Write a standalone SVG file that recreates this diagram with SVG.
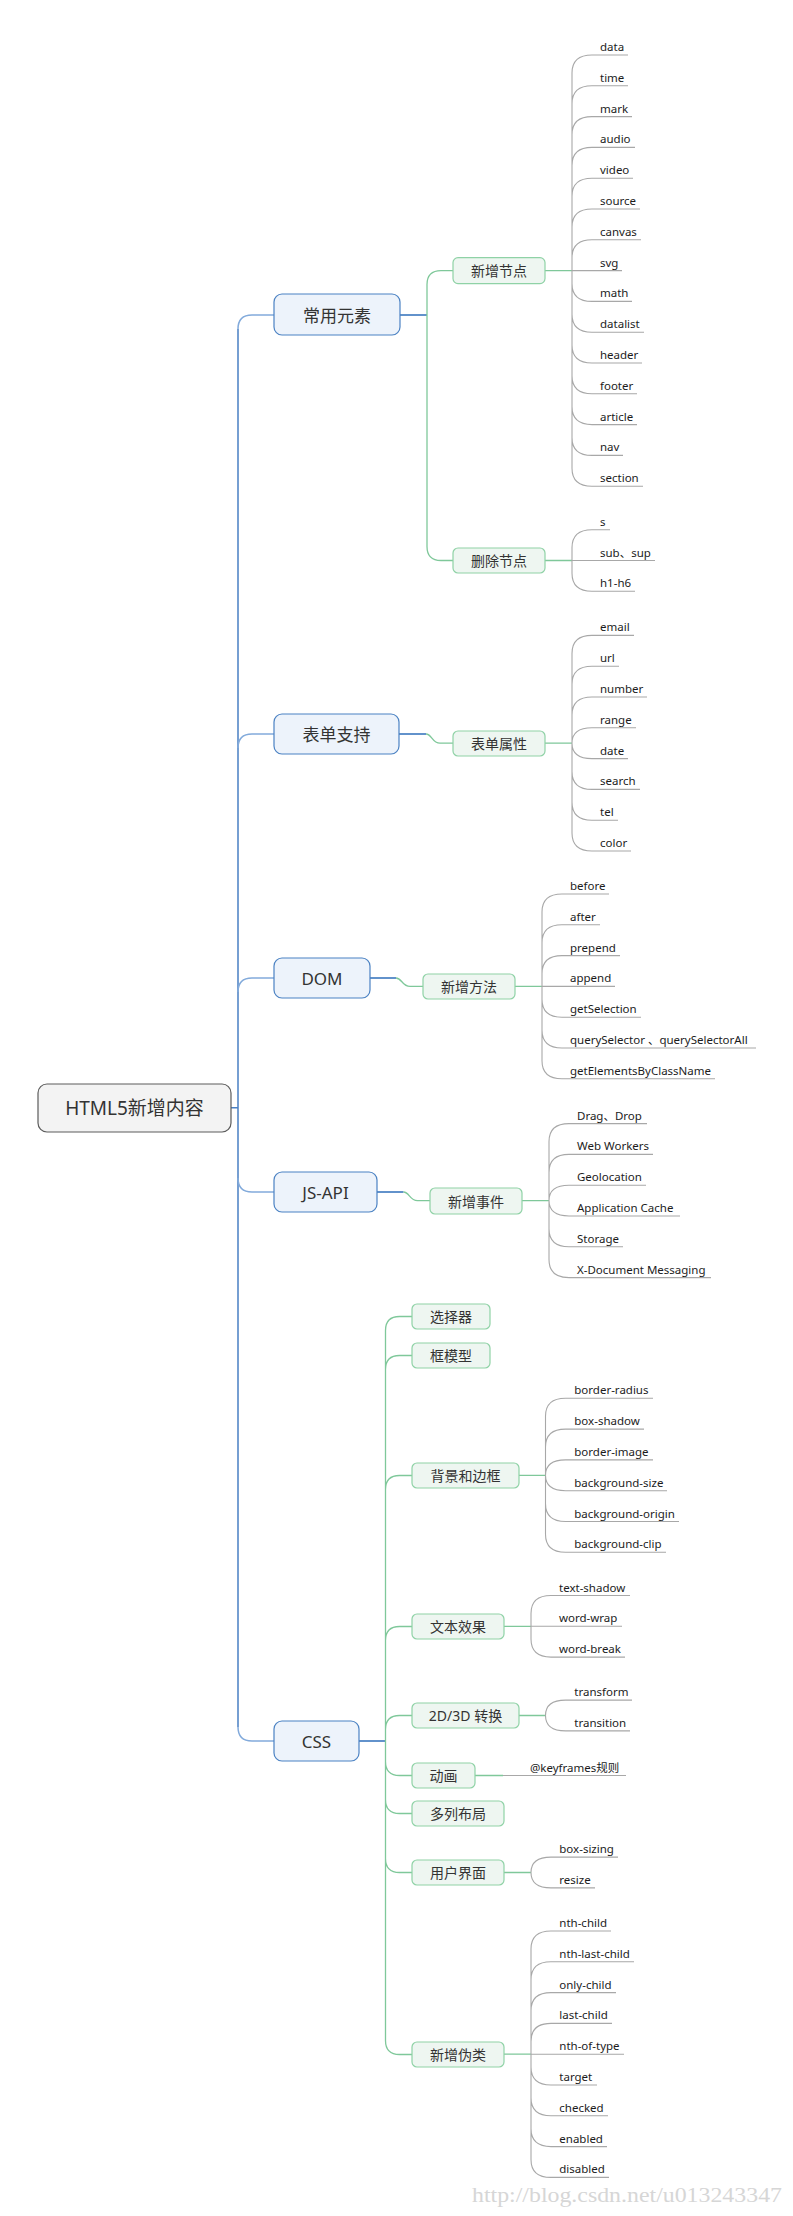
<svg xmlns="http://www.w3.org/2000/svg" width="793" height="2216" viewBox="0 0 793 2216">
<style>
text{font-family:"Noto Sans","Noto Sans CJK SC",sans-serif}
.lf{font-size:11.5px;fill:#1c1c1c}
.t2{font-size:14px;fill:#333;text-anchor:middle;dominant-baseline:central}
.t1{font-size:17px;fill:#333;text-anchor:middle;dominant-baseline:central}
.t0{font-size:19px;fill:#333;text-anchor:middle;dominant-baseline:central}
.gl{fill:none;stroke:#a8a8a8;stroke-width:1.1}
.gr{fill:none;stroke:#7fc89a;stroke-width:1.3}
.bl{fill:none;stroke:#4a80c4;stroke-width:1.5}
.blc{fill:none;stroke:#82aadb;stroke-width:1.5}
.bd{fill:none;stroke:#2f6fba;stroke-width:1.3}
.b0{fill:#f3f3f3;stroke:#5c5c5c;stroke-width:1.2}
.b1{fill:#edf3fb;stroke:#4b82c3;stroke-width:1.2}
.b2{fill:#eef6f1;stroke:#8fd2a6;stroke-width:1.2}
.wm{font-family:"Liberation Serif",serif;font-size:20px;fill:#d6d6d6}
</style>
<g id="connectors">
<!-- trunk -->
<path class="bl" d="M231,1107.7 H238 M238,329 V1727"/>
<path class="blc" d="M238,329 Q238,315 252,315 H274 M238,748 Q238,734 252,734 H274 M238,992 Q238,978 252,978 H274 M238,1178 Q238,1192 252,1192 H274 M238,1727 Q238,1741 252,1741 H274"/>
<!-- level1 to level2 -->
<path class="bd" d="M400,315 H427 M399,734 H426 M370,978 H396 M377,1192 H403.5 M359,1741 H385.5"/>
<path class="gr" d="M427,284.6 V546.5 M427,284.6 Q427,270.6 441,270.6 H453 M427,546.5 Q427,560.5 441,560.5 H453"/>
<path class="gr" d="M426,734 C432,734 432,743.2 440,743.2 H453"/>
<path class="gr" d="M396,978 C402,978 402,986.4 410,986.4 H423"/>
<path class="gr" d="M403.5,1192 C409.5,1192 409.5,1200.6 417.5,1200.6 H430"/>
<path class="gr" d="M385.5,1330.5 V2040.5 M385.5,1330.5 Q385.5,1316.5 399.5,1316.5 H412 M385.5,1369.5 Q385.5,1355.5 399.5,1355.5 H412 M385.5,1489.5 Q385.5,1475.5 399.5,1475.5 H412 M385.5,1640.5 Q385.5,1626.5 399.5,1626.5 H412 M385.5,1729.5 Q385.5,1715.5 399.5,1715.5 H412 M385.5,1761.5 Q385.5,1775.5 399.5,1775.5 H412 M385.5,1799.5 Q385.5,1813.5 399.5,1813.5 H412 M385.5,1858.5 Q385.5,1872.5 399.5,1872.5 H412 M385.5,2040.5 Q385.5,2054.5 399.5,2054.5 H412"/>
<!-- level2 to leaves (green stubs) -->
<path class="gr" d="M545,270.6 H572 M545,560.5 H572 M545,743.2 H572 M515,986.4 H542 M522,1200.6 H549 M519,1475.3 H545.5 M504,1626.3 H531 M519,1715.5 H545.5 M475,1775.5 H503 M504,1872.5 H531 M504,2054.2 H531"/>
<!-- leaves: 新增节点 -->
<path class="gl" d="M572,73 V468.2
M572,73 Q572,55 592,55 H628
M572,103.8 Q572,85.8 592,85.8 H628
M572,134.6 Q572,116.6 592,116.6 H632
M572,165.4 Q572,147.4 592,147.4 H635
M572,196.2 Q572,178.2 592,178.2 H633
M572,227 Q572,209 592,209 H640
M572,257.8 Q572,239.8 592,239.8 H641
M572,270.6 H622
M572,283.4 Q572,301.4 592,301.4 H632
M572,314.2 Q572,332.2 592,332.2 H644
M572,345 Q572,363 592,363 H642
M572,375.8 Q572,393.8 592,393.8 H637
M572,406.6 Q572,424.6 592,424.6 H637
M572,437.4 Q572,455.4 592,455.4 H623
M572,468.2 Q572,486.2 592,486.2 H643"/>
<!-- 删除节点 -->
<path class="gl" d="M572,547.7 V573.3
M572,547.7 Q572,529.7 592,529.7 H610
M572,560.5 H655
M572,573.3 Q572,591.3 592,591.3 H635"/>
<!-- 表单属性 -->
<path class="gl" d="M572,653.4 V833
M572,653.4 Q572,635.4 592,635.4 H634
M572,684.2 Q572,666.2 592,666.2 H619
M572,715 Q572,697 592,697 H647
M572,743.2 Q572,727.8 592,727.8 H636
M572,743.2 Q572,758.6 592,758.6 H628
M572,771.4 Q572,789.4 592,789.4 H640
M572,802.2 Q572,820.2 592,820.2 H618
M572,833 Q572,851 592,851 H631"/>
<!-- 新增方法 -->
<path class="gl" d="M542,912 V1060.8
M542,912 Q542,894 562,894 H609
M542,942.8 Q542,924.8 562,924.8 H600
M542,973.6 Q542,955.6 562,955.6 H620
M542,986.4 H615
M542,999.2 Q542,1017.2 562,1017.2 H641
M542,1030 Q542,1048 562,1048 H756
M542,1060.8 Q542,1078.8 562,1078.8 H715"/>
<!-- 新增事件 -->
<path class="gl" d="M549,1141.6 V1259.6
M549,1141.6 Q549,1123.6 569,1123.6 H647
M549,1172.4 Q549,1154.4 569,1154.4 H653
M549,1200.6 Q549,1185.2 569,1185.2 H646
M549,1200.6 Q549,1216 569,1216 H680
M549,1228.8 Q549,1246.8 569,1246.8 H623
M549,1259.6 Q549,1277.6 569,1277.6 H711"/>
<!-- 背景和边框 -->
<path class="gl" d="M545.5,1416.3 V1534.3
M545.5,1416.3 Q545.5,1398.3 565.5,1398.3 H653
M545.5,1447.1 Q545.5,1429.1 565.5,1429.1 H644
M545.5,1475.3 Q545.5,1459.9 565.5,1459.9 H653
M545.5,1475.3 Q545.5,1490.7 565.5,1490.7 H667
M545.5,1503.5 Q545.5,1521.5 565.5,1521.5 H679
M545.5,1534.3 Q545.5,1552.3 565.5,1552.3 H666"/>
<!-- 文本效果 -->
<path class="gl" d="M531,1613.5 V1639.1
M531,1613.5 Q531,1595.5 551,1595.5 H630
M531,1626.3 H622
M531,1639.1 Q531,1657.1 551,1657.1 H625"/>
<!-- 2D/3D -->
<path class="gl" d="M545.5,1715.5 Q545.5,1700.1 565.5,1700.1 H632
M545.5,1715.5 Q545.5,1730.9 565.5,1730.9 H630"/>
<!-- 动画 -->
<path class="gl" d="M503,1775.5 H626"/>
<!-- 用户界面 -->
<path class="gl" d="M531,1872.5 Q531,1857.1 551,1857.1 H618
M531,1872.5 Q531,1887.9 551,1887.9 H595"/>
<!-- 新增伪类 -->
<path class="gl" d="M531,1949 V2159.4
M531,1949 Q531,1931 551,1931 H611
M531,1979.8 Q531,1961.8 551,1961.8 H634
M531,2010.6 Q531,1992.6 551,1992.6 H616
M531,2041.4 Q531,2023.4 551,2023.4 H612
M531,2054.2 H624
M531,2067 Q531,2085 551,2085 H597
M531,2097.8 Q531,2115.8 551,2115.8 H608
M531,2128.6 Q531,2146.6 551,2146.6 H607
M531,2159.4 Q531,2177.4 551,2177.4 H609"/>
</g>
<g id="root"><rect class="b0" x="38" y="1084" width="193" height="48" rx="9"/><text class="t0" x="134.5" y="1108">HTML5新增内容</text></g>
<g id="n-changyong"><rect class="b1" x="274" y="294" width="126" height="41" rx="8"/><text class="t1" x="337" y="315">常用元素</text></g>
<g id="n-biaodan"><rect class="b1" x="274" y="714" width="125" height="40" rx="8"/><text class="t1" x="336.5" y="734">表单支持</text></g>
<g id="n-dom"><rect class="b1" x="274" y="958" width="96" height="40" rx="8"/><text class="t1" x="322" y="978">DOM</text></g>
<g id="n-jsapi"><rect class="b1" x="274" y="1172" width="103" height="40" rx="8"/><text class="t1" x="325.5" y="1192">JS-API</text></g>
<g id="n-css"><rect class="b1" x="274" y="1721" width="85" height="40" rx="8"/><text class="t1" x="316.5" y="1741">CSS</text></g>
<g id="n-xinzengjiedian"><rect class="b2" x="453" y="257.6" width="92" height="26" rx="5"/><text class="t2" x="499" y="270.6">新增节点</text></g>
<g id="n-shanchujiedian"><rect class="b2" x="453" y="548" width="92" height="25" rx="5"/><text class="t2" x="499" y="560.5">删除节点</text></g>
<g id="n-biaodanshuxing"><rect class="b2" x="453" y="731" width="92" height="25" rx="5"/><text class="t2" x="499" y="743.5">表单属性</text></g>
<g id="n-xinzengfangfa"><rect class="b2" x="423" y="974" width="92" height="25" rx="5"/><text class="t2" x="469" y="986.5">新增方法</text></g>
<g id="n-xinzengshijian"><rect class="b2" x="430" y="1188" width="92" height="26" rx="5"/><text class="t2" x="476" y="1201">新增事件</text></g>
<g id="n-xuanzeqi"><rect class="b2" x="412" y="1304" width="78" height="25" rx="5"/><text class="t2" x="451" y="1316.5">选择器</text></g>
<g id="n-kuangmoxing"><rect class="b2" x="412" y="1343" width="78" height="25" rx="5"/><text class="t2" x="451" y="1355.5">框模型</text></g>
<g id="n-beijing"><rect class="b2" x="412" y="1463" width="107" height="25" rx="5"/><text class="t2" x="465.5" y="1475.5">背景和边框</text></g>
<g id="n-wenben"><rect class="b2" x="412" y="1614" width="92" height="25" rx="5"/><text class="t2" x="458" y="1626.5">文本效果</text></g>
<g id="n-zhuanhuan"><rect class="b2" x="412" y="1703" width="107" height="25" rx="5"/><text class="t2" x="465.5" y="1715.5">2D/3D 转换</text></g>
<g id="n-donghua"><rect class="b2" x="412" y="1763" width="63" height="25" rx="5"/><text class="t2" x="443.5" y="1775.5">动画</text></g>
<g id="n-duolie"><rect class="b2" x="412" y="1801" width="92" height="25" rx="5"/><text class="t2" x="458" y="1813.5">多列布局</text></g>
<g id="n-yonghu"><rect class="b2" x="412" y="1860" width="92" height="25" rx="5"/><text class="t2" x="458" y="1872.5">用户界面</text></g>
<g id="n-weilei"><rect class="b2" x="412" y="2042" width="92" height="25" rx="5"/><text class="t2" x="458" y="2054.5">新增伪类</text></g>
<g id="leaves" class="lf">
<text x="600" y="51">data</text>
<text x="600" y="81.8">time</text>
<text x="600" y="112.6">mark</text>
<text x="600" y="143.4">audio</text>
<text x="600" y="174.2">video</text>
<text x="600" y="205">source</text>
<text x="600" y="235.8">canvas</text>
<text x="600" y="266.6">svg</text>
<text x="600" y="297.4">math</text>
<text x="600" y="328.2">datalist</text>
<text x="600" y="359">header</text>
<text x="600" y="389.8">footer</text>
<text x="600" y="420.6">article</text>
<text x="600" y="451.4">nav</text>
<text x="600" y="482.2">section</text>
<text x="600" y="525.7">s</text>
<text x="600" y="556.5">sub、sup</text>
<text x="600" y="587.3">h1-h6</text>
<text x="600" y="631.4">email</text>
<text x="600" y="662.2">url</text>
<text x="600" y="693">number</text>
<text x="600" y="723.8">range</text>
<text x="600" y="754.6">date</text>
<text x="600" y="785.4">search</text>
<text x="600" y="816.2">tel</text>
<text x="600" y="847">color</text>
<text x="570" y="890">before</text>
<text x="570" y="920.8">after</text>
<text x="570" y="951.6">prepend</text>
<text x="570" y="982.4">append</text>
<text x="570" y="1013.2">getSelection</text>
<text x="570" y="1044">querySelector 、querySelectorAll</text>
<text x="570" y="1074.8">getElementsByClassName</text>
<text x="577" y="1119.6">Drag、Drop</text>
<text x="577" y="1150.4">Web Workers</text>
<text x="577" y="1181.2">Geolocation</text>
<text x="577" y="1212">Application Cache</text>
<text x="577" y="1242.8">Storage</text>
<text x="577" y="1273.6">X-Document Messaging</text>
<text x="574.3" y="1394.3">border-radius</text>
<text x="574.3" y="1425.1">box-shadow</text>
<text x="574.3" y="1455.9">border-image</text>
<text x="574.3" y="1486.7">background-size</text>
<text x="574.3" y="1517.5">background-origin</text>
<text x="574.3" y="1548.3">background-clip</text>
<text x="559" y="1591.5">text-shadow</text>
<text x="559" y="1622.3">word-wrap</text>
<text x="559" y="1653.1">word-break</text>
<text x="574.3" y="1696.1">transform</text>
<text x="574.3" y="1726.9">transition</text>
<text x="530" y="1771.5">@keyframes规则</text>
<text x="559.3" y="1853.1">box-sizing</text>
<text x="559.3" y="1883.9">resize</text>
<text x="559.3" y="1927">nth-child</text>
<text x="559.3" y="1957.8">nth-last-child</text>
<text x="559.3" y="1988.6">only-child</text>
<text x="559.3" y="2019.4">last-child</text>
<text x="559.3" y="2050.2">nth-of-type</text>
<text x="559.3" y="2081">target</text>
<text x="559.3" y="2111.8">checked</text>
<text x="559.3" y="2142.6">enabled</text>
<text x="559.3" y="2173.4">disabled</text>
</g>
<text class="wm" x="472" y="2201.5" textLength="310" lengthAdjust="spacingAndGlyphs">http://blog.csdn.net/u013243347</text>
</svg>
